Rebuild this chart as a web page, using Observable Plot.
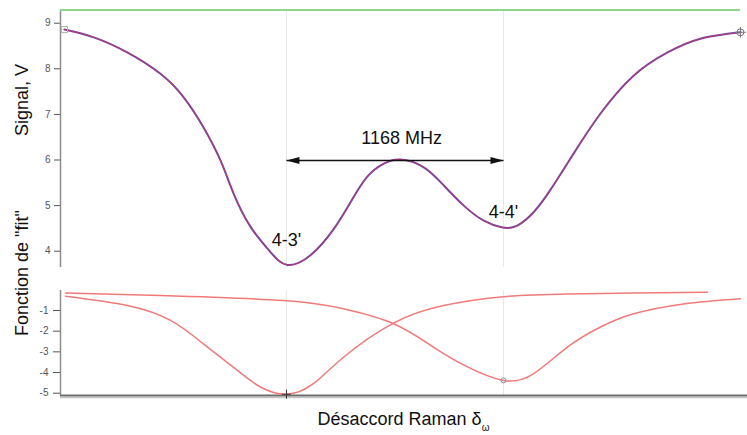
<!DOCTYPE html>
<html>
<head>
<meta charset="utf-8">
<script src="https://cdn.jsdelivr.net/npm/d3@7"></script>
<script src="https://cdn.jsdelivr.net/npm/@observablehq/plot@0.6"></script>
<style>
  body { margin: 0; background: #fff; width: 747px; height: 435px; overflow: hidden; font-family: "Liberation Sans", Arial, sans-serif; }
  svg { display: block; }
  #xlabel { width: 687px; padding-left: 60px; text-align: center; font-size: 18px; color: #111; margin-top: 4px; line-height: 20px; }
  #xlabel sub { font-size: 10px; vertical-align: -6px; }
</style>
</head>
<body>
<div id="chart"></div>
<script>
// ---- data (detuning in MHz, 4-3' line at 0) ----
const signalX = [-1195, -1037, -857, -678, -554, -447, -355, -285, -194, -86, 5, 129, 255, 344, 434, 524, 614, 739, 847, 954, 1062, 1163, 1242, 1331, 1421, 1545, 1690, 1868, 2051, 2228, 2443];
const signalY = [8.86, 8.69, 8.36, 7.89, 7.38, 6.72, 5.99, 5.27, 4.54, 3.98, 3.70, 3.91, 4.49, 5.07, 5.63, 5.92, 6.01, 5.84, 5.44, 5.00, 4.67, 4.52, 4.56, 4.86, 5.35, 6.14, 7.02, 7.85, 8.36, 8.66, 8.80];

const fit43X = [-1189, -856, -624, -447, -264, -140, 0, 145, 307, 576, 845, 1168, 1512, 1868, 2266];
const fit43Y = [-0.31, -0.76, -1.48, -2.61, -3.90, -4.70, -5.05, -4.54, -3.26, -1.61, -0.76, -0.33, -0.20, -0.15, -0.12];

const fit44X = [-1189, -678, -16, 307, 576, 791, 974, 1168, 1329, 1512, 1690, 1868, 2137, 2443];
const fit44Y = [-0.15, -0.28, -0.52, -0.92, -1.64, -2.77, -3.73, -4.38, -4.06, -2.77, -1.80, -1.16, -0.68, -0.43];

const peakX = [0, 1168];              // 4-3' and 4-4'
const peakLabels = ["4-3'", "4-4'"];
const peakLabelY = [4.25, 4.85];
const splitting = "1168 MHz";
const arrowLevel = 5.99;
const splitLabelX = 620, splitLabelY = 6.48;
const greenLevel = 9.29;
const signalTicks = [4, 5, 6, 7, 8, 9];
const fitTicks = [-1, -2, -3, -4, -5];
const xDomain = [-1216, 2481];

// ---- tables built from the arrays ----
const signal = signalX.map((x, i) => ({x, y: signalY[i]}));
const fit43 = fit43X.map((x, i) => ({x, y: fit43Y[i]}));
const fit44 = fit44X.map((x, i) => ({x, y: fit44Y[i]}));
const font = "'Liberation Sans', Arial, sans-serif";
const style = {fontFamily: font, fontSize: "10px", color: "#555", background: "white", overflow: "visible"};

const headLeft = {draw(c) { c.moveTo(0, 0); c.lineTo(13, -3.5); c.lineTo(13, 3.5); c.closePath(); }};
const headRight = {draw(c) { c.moveTo(0, 0); c.lineTo(-13, -3.5); c.lineTo(-13, 3.5); c.closePath(); }};

const topPlot = Plot.plot({
  width: 747, height: 280,
  marginLeft: 60, marginRight: 0, marginTop: 10, marginBottom: 13,
  x: {domain: xDomain, axis: null},
  y: {domain: [3.643, 9.2785], ticks: signalTicks, tickSize: 6, tickPadding: 4, tickFormat: d => String(d), label: null},
  style,
  marks: [
    Plot.ruleX(peakX, {stroke: "#e8e8e8"}),
    Plot.ruleX([xDomain[0]], {stroke: "#8c8c8c", strokeWidth: 1.5}),
    Plot.ruleY([{y: greenLevel, x1: xDomain[0], x2: signalX[signalX.length - 1]}], {y: "y", x1: "x1", x2: "x2", stroke: "#8ed68e", strokeWidth: 2}),
    Plot.line(signal, {x: "x", y: "y", curve: "natural", stroke: "#6a48b0", strokeWidth: 2}),
    Plot.line(signal, {x: "x", y: "y", curve: "natural", stroke: "#e0304a", strokeWidth: 1, strokeOpacity: 0.65}),
    Plot.dot([signal[0]], {x: "x", y: "y", symbol: "square", r: 3.5, stroke: "#9db89d", fill: "none", strokeWidth: 1}),
    Plot.dot([signal[signal.length - 1]], {x: "x", y: "y", symbol: "circle", r: 3.5, stroke: "#777", fill: "none", strokeWidth: 1}),
    Plot.dot([signal[signal.length - 1]], {x: "x", y: "y", symbol: "plus", r: 3.5, stroke: "#777", strokeWidth: 1}),
    Plot.link([{x1: peakX[0], x2: peakX[1], y: arrowLevel}], {x1: "x1", x2: "x2", y1: "y", y2: "y", stroke: "#111", strokeWidth: 1.6}),
    Plot.dot([{x: peakX[0], y: arrowLevel}], {x: "x", y: "y", symbol: headLeft, fill: "#111", stroke: "none"}),
    Plot.dot([{x: peakX[1], y: arrowLevel}], {x: "x", y: "y", symbol: headRight, fill: "#111", stroke: "none"}),
    Plot.text([splitting], {x: splitLabelX, y: splitLabelY, text: d => d, fontSize: 18, fill: "#111"}),
    Plot.text(peakLabels, {x: (d, i) => peakX[i], y: (d, i) => peakLabelY[i], text: d => d, fontSize: 18, fill: "#111"}),
    Plot.text(["Signal, V"], {frameAnchor: "left", text: d => d, rotate: -90, dx: -38, dy: -3, fontSize: 18, fill: "#111"})
  ]
});

const bottomPlot = Plot.plot({
  width: 747, height: 125,
  marginLeft: 60, marginRight: 0, marginTop: 10, marginBottom: 10,
  x: {domain: xDomain, axis: null},
  y: {domain: [-5.111, -0.0327], ticks: fitTicks, tickSize: 7, tickPadding: 5, tickFormat: d => String(d), label: null},
  style,
  marks: [
    Plot.ruleX(peakX, {stroke: "#e8e8e8"}),
    Plot.ruleX([xDomain[0]], {stroke: "#8c8c8c", strokeWidth: 1.5}),
    Plot.ruleY([-5.111], {stroke: "#c4c4c4", strokeWidth: 1.5, dy: 2}),
    Plot.ruleY([-5.111], {stroke: "#6e6e6e", strokeWidth: 2}),
    Plot.line(fit44, {x: "x", y: "y", curve: "natural", stroke: "#f07a7a", strokeWidth: 1.5}),
    Plot.line(fit43, {x: "x", y: "y", curve: "natural", stroke: "#f07a7a", strokeWidth: 1.5}),
    Plot.dot([{x: peakX[0], y: fit43Y[fit43X.indexOf(0)]}], {x: "x", y: "y", symbol: "plus", r: 3, stroke: "#333", strokeWidth: 1}),
    Plot.dot([{x: peakX[1], y: fit44Y[fit44X.indexOf(1168)]}], {x: "x", y: "y", symbol: "circle", r: 2.5, stroke: "#8890b0", fill: "none", strokeWidth: 1}),
    Plot.text(['Fonction de "fit"'], {frameAnchor: "left", text: d => d, rotate: -90, dx: -38, dy: -7, fontSize: 18, fill: "#111"})
  ]
});

const chart = document.getElementById("chart");
chart.appendChild(topPlot);
chart.appendChild(bottomPlot);
const xl = document.createElement("div");
xl.id = "xlabel";
xl.innerHTML = "Désaccord Raman δ<sub>ω</sub>";
chart.appendChild(xl);
</script>
</body>
</html>
